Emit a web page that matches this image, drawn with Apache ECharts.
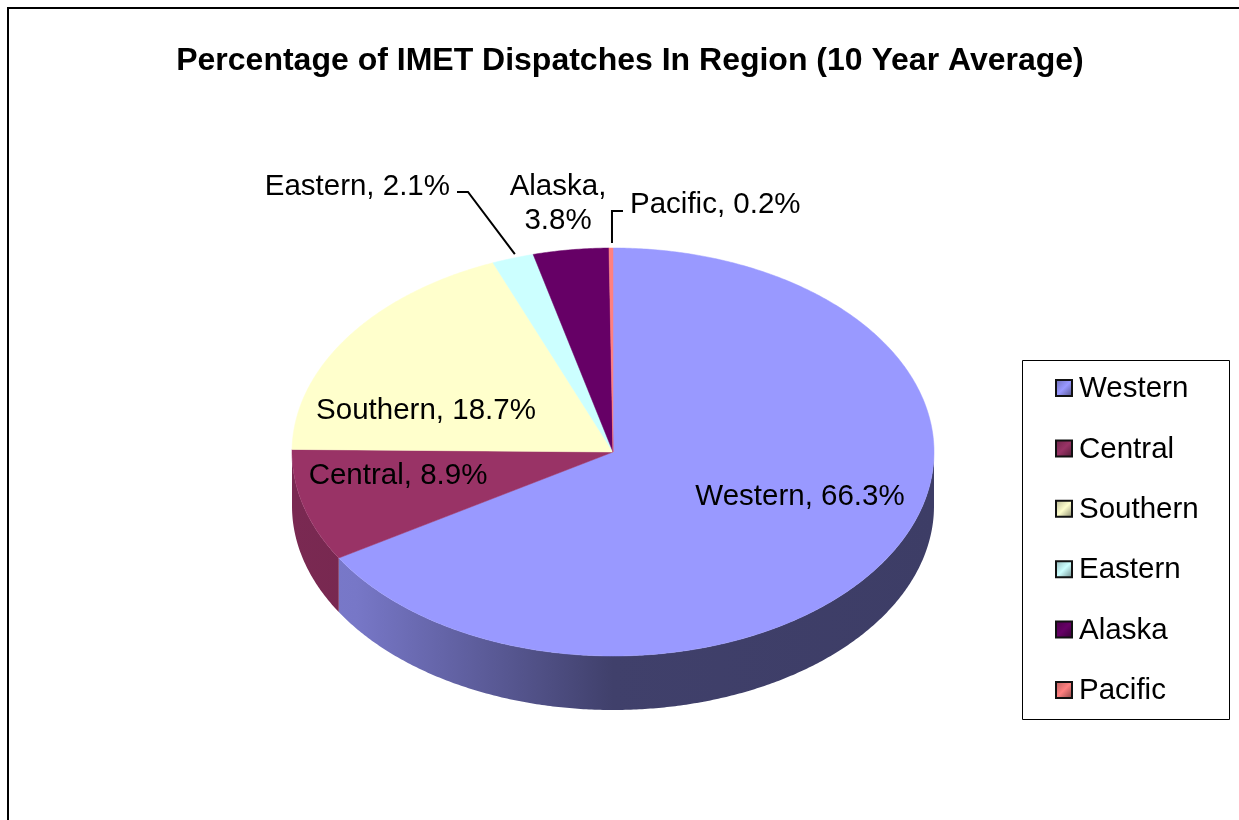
<!DOCTYPE html>
<html>
<head>
<meta charset="utf-8">
<title>Percentage of IMET Dispatches In Region</title>
<script src="https://cdn.jsdelivr.net/npm/echarts@6/dist/echarts.min.js"></script>
<style>
  html, body { margin: 0; padding: 0; background: #fff; }
  #chart { width: 1239px; height: 820px; }
</style>
</head>
<body>
<div id="chart"></div>
<script>
// data
var regions = ['Western', 'Central', 'Southern', 'Eastern', 'Alaska', 'Pacific'];
var shares = [66.3, 8.9, 18.7, 2.1, 3.8, 0.2];
var colors = ['#9999FF', '#993366', '#FFFFCC', '#CCFFFF', '#660066', '#FF8080'];

// pie layout (3d look: ellipse + side wall)
var cx = 613, cy = 452, rx = 321, ry = 204, depth = 54;
var FONT = '29.5px "Liberation Sans", Arial, sans-serif';

// label spots, offsets from the pie centre
var labelSpots = [
    { dx: 187, dy: 45, align: 'center' },
    { dx: -215, dy: 24, align: 'center' },
    { dx: -187, dy: -41, align: 'center' },
    { dx: -163, dy: -265, align: 'right', leader: 'eastern' },
    { dx: -55, dy: -248, align: 'center', twoLines: true },
    { dx: 17, dy: -247, align: 'left', leader: 'pacific' }
];

var total = shares.reduce(function (a, b) { return a + b; }, 0);
var starts = [];
(function () {
    var acc = 0;
    for (var i = 0; i < shares.length; i++) { starts.push(acc); acc += shares[i]; }
})();

function pt(deg, off) {
    var r = deg * Math.PI / 180;
    return [cx + rx * Math.sin(r), cy - ry * Math.cos(r) + (off || 0)];
}
function arc(a1, a2, off) {
    var pts = [];
    var n = Math.max(2, Math.ceil((a2 - a1) / 0.5));
    for (var k = 0; k <= n; k++) pts.push(pt(a1 + (a2 - a1) * k / n, off));
    return pts;
}
function shade(hex, f) {
    var c = parseInt(hex.slice(1), 16);
    var r = Math.round(((c >> 16) & 255) * f);
    var g = Math.round(((c >> 8) & 255) * f);
    var b = Math.round((c & 255) * f);
    return 'rgb(' + r + ',' + g + ',' + b + ')';
}

function renderSlice(params, api) {
    var i = params.dataIndex;
    var v = api.value(0);
    var a1 = starts[i] / total * 360;
    var a2 = a1 + v / total * 360;
    var col = colors[i];
    var children = [];

    // side wall (front half only)
    var s1 = Math.max(a1, 90), s2 = Math.min(a2, 270);
    if (s2 > s1) {
        var wall = arc(s1, s2, 0).concat(arc(s1, s2, depth).reverse());
        children.push({
            type: 'polygon',
            z2: 1,
            shape: { points: wall },
            style: {
                fill: new echarts.graphic.LinearGradient(cx - rx, 0, cx + rx, 0, [
                    { offset: 0, color: shade(col, 0.8) },
                    { offset: 0.1, color: shade(col, 0.78) },
                    { offset: 0.5, color: shade(col, 0.42) },
                    { offset: 1, color: shade(col, 0.4) }
                ], true),
                stroke: null
            }
        });
    }

    // top face
    children.push({
        type: 'polygon',
        z2: 10,
        shape: { points: [[cx, cy]].concat(arc(a1, a2, 0)) },
        style: { fill: col, stroke: col, lineWidth: 0.5 }
    });

    // label
    var spot = labelSpots[i];
    var pct = v.toFixed(1) + '%';
    var txt = spot.twoLines ? regions[i] + ',\n' + pct : regions[i] + ', ' + pct;
    children.push({
        type: 'text',
        z2: 20,
        style: {
            text: txt,
            x: cx + spot.dx,
            y: cy + spot.dy,
            fill: '#000',
            font: FONT,
            align: spot.align,
            verticalAlign: 'middle',
            lineHeight: 34
        }
    });

    // leader lines
    var mid = pt((a1 + a2) / 2, 0);
    if (spot.leader === 'eastern') {
        var lx = cx + spot.dx + 7, ly = cy + spot.dy + 5;
        children.push({
            type: 'polyline', z2: 20,
            shape: { points: [[lx, ly], [lx + 11, ly], [mid[0] + 2, mid[1] - 4]] },
            style: { stroke: '#000', lineWidth: 2, fill: null }
        });
    } else if (spot.leader === 'pacific') {
        var px = mid[0] + 1;
        children.push({
            type: 'polyline', z2: 20,
            shape: { points: [[px, mid[1] - 5], [px, cy + spot.dy + 6], [px + 11, cy + spot.dy + 6]] },
            style: { stroke: '#000', lineWidth: 2, fill: null }
        });
    }

    return { type: 'group', children: children };
}

// legend built from the same arrays
var legendItems = [];
legendItems.push({
    type: 'rect',
    shape: { x: 1022.5, y: 360.5, width: 207, height: 359 },
    style: { fill: '#fff', stroke: '#000', lineWidth: 1 }
});
regions.forEach(function (name, i) {
    var rowY = 388 + i * 60.4;
    legendItems.push({
        type: 'rect',
        shape: { x: 1056, y: rowY - 8, width: 16, height: 16 },
        style: {
            fill: new echarts.graphic.LinearGradient(0, 0, 1, 1, [
                { offset: 0, color: shade(colors[i], 0.7) },
                { offset: 0.5, color: colors[i] },
                { offset: 1, color: shade(colors[i], 0.5) }
            ]),
            stroke: '#111',
            lineWidth: 2
        }
    });
    legendItems.push({
        type: 'text',
        style: { text: name, x: 1079, y: rowY + 1, font: FONT, fill: '#000', verticalAlign: 'middle' }
    });
});
// outer frame
legendItems.push({
    type: 'rect',
    shape: { x: 8, y: 8, width: 1300, height: 900 },
    style: { fill: null, stroke: '#000', lineWidth: 2 }
});

var chart = echarts.init(document.getElementById('chart'));
chart.setOption({
    backgroundColor: '#fff',
    animation: false,
    title: {
        text: 'Percentage of IMET Dispatches In Region (10 Year Average)',
        left: 625,
        top: 40,
        textAlign: 'center',
        textStyle: {
            fontFamily: '"Liberation Sans", Arial, sans-serif',
            fontSize: 32,
            fontWeight: 'bold',
            color: '#000'
        }
    },
    graphic: legendItems,
    series: [{
        type: 'custom',
        name: 'Dispatches',
        coordinateSystem: 'none',
        renderItem: renderSlice,
        data: shares.map(function (v, i) { return { name: regions[i], value: v }; })
    }]
});
window.addEventListener('resize', function () { chart.resize(); });
</script>
</body>
</html>
